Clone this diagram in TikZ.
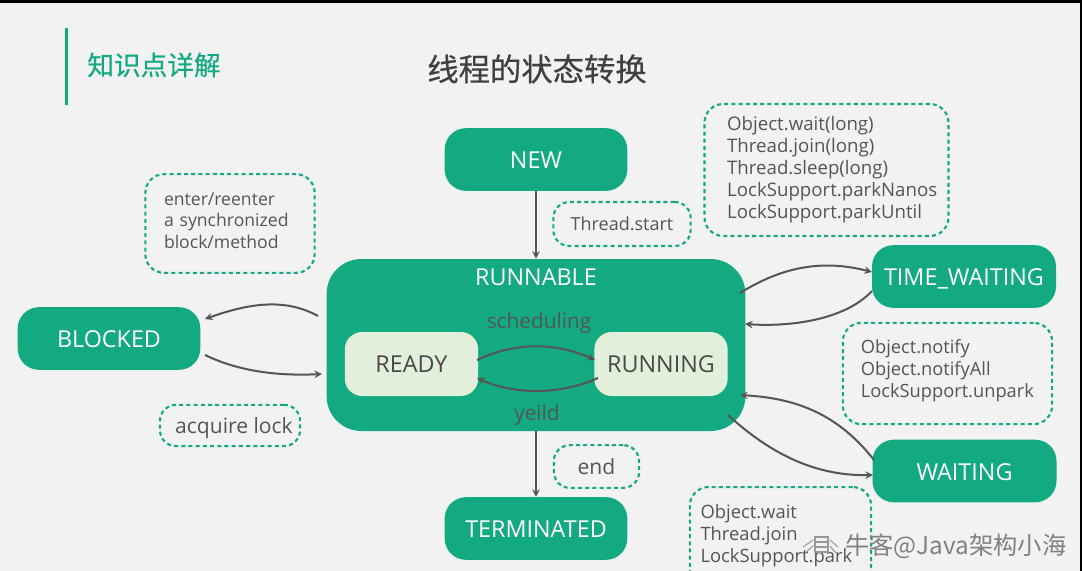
\documentclass[tikz,border=0pt]{standalone}
\usepackage{fontspec}
\usepackage{xcolor}
\usepackage{tikz}
\setmainfont{Open Sans}
\newfontfamily\cjk[AutoFakeBold=0.5]{Noto Sans CJK SC}
\definecolor{vert}{HTML}{13AA82}
\definecolor{pale}{HTML}{E2EFDA}
\definecolor{fond}{HTML}{F2F2F2}
\definecolor{encre}{HTML}{555555}
\newcommand{\basnote}[1]{\rule[-#1pt]{0pt}{#1pt}}
\tikzset{
etat/.style={
 fill=vert,
 rounded corners=16pt,
 text=white,
 text height=14pt,
 text depth=0pt,
 font=\fontsize{17.5}{20}\selectfont,
 minimum width=137pt,
 minimum height=47pt,
 inner sep=0pt
 },
soustat/.style={
 fill=pale,
 rounded corners=13pt,
 text=encre!85!black,
 font=\fontsize{17.5}{20}\selectfont,
 minimum width=100pt,
 minimum height=48pt,
 inner sep=0pt
 },
note/.style={
 draw=vert,
 line width=1.6pt,
 dash pattern=on 3pt off 2.4pt,
 rounded corners=14pt,
 text=encre,
 align=left,
 font=\fontsize{14}{16.5}\selectfont,
 inner sep=0pt
 },
fleche/.style={
 draw=encre,
 line width=1.5pt,
 -stealth
 }
}
\begin{document}
\begin{tikzpicture}[x=0.75pt,y=-0.75pt]
\useasboundingbox (0,0) rectangle (1082,571);
\clip (0,0) rectangle (1082,571);
\fill[fond] (0,0) rectangle (1082,571);
\fill[black] (0,0) rectangle (1082,3);
\fill[black] (1080,0) rectangle (1082,571);
% heading
\fill[vert] (65,28) rectangle (68,105);
\node[text=vert,font=\cjk\bfseries\fontsize{20}{24}\selectfont] (rubrique) at (154,65) {知识点详解};
\node[text=black!75,font=\cjk\bfseries\fontsize{23.5}{28}\selectfont] (titre) at (537,69) {线程的状态转换};
% states
\node[etat] (new) at (536,159.5) {NEW};
\node[etat,rounded corners=26pt,minimum width=314pt,minimum height=129pt] (runnable) at (536,345) {};
\node[text=white,font=\fontsize{17.5}{20}\selectfont] (runnabletxt) at (536,277) {RUNNABLE};
\node[soustat] (ready) at (411.5,364) {READY};
\node[soustat] (running) at (661,364) {RUNNING};
\node[etat] (blocked) at (109,338.5) {BLOCKED};
\node[etat,minimum width=138pt] (timewaiting) at (964,276.5) {TIME\_WAITING};
\node[etat,minimum width=138pt] (waiting) at (964.5,471) {WAITING};
\node[etat] (terminated) at (536,528.5) {TERMINATED};
\node[text=encre,font=\fontsize{15.6}{18}\selectfont] (scheduling) at (539,323) {scheduling};
\node[text=encre,font=\fontsize{15.6}{18}\selectfont] (yeild) at (537,415) {yeild};
% notes
\node[note,minimum width=183pt,minimum height=99pt,text width=149pt] (n1) at (826.5,170) {Object.wait(long)\\Thread.join(long)\\Thread.sleep(long)\\LockSupport.parkNanos\\LockSupport.parkUntil};
\node[note,minimum width=127pt,minimum height=74pt,text width=99pt,font=\fontsize{13.2}{16}\selectfont] (n2) at (230,223.5) {enter/reenter\\a synchronized\\block/method\basnote{4.5}};
\node[note,minimum width=103pt,minimum height=33pt,rounded corners=12pt,align=center,font=\fontsize{13.5}{16}\selectfont] (n3) at (622,224) {Thread.start};
\node[note,minimum width=105pt,minimum height=31pt,rounded corners=12pt,align=center,text height=11.6pt,text depth=0pt,font=\fontsize{15.8}{18}\selectfont] (n4) at (230,425.5) {\hspace*{6pt}acquire lock};
\node[note,minimum width=64pt,minimum height=32pt,rounded corners=12pt,align=center,font=\fontsize{15.8}{18}\selectfont] (n5) at (596.5,466.5) {end};
\node[note,minimum width=157pt,minimum height=76pt,text width=130pt,font=\fontsize{13.7}{16.5}\selectfont] (n6) at (947.5,373.5) {Object.notify\\Object.notifyAll\\LockSupport.unpark\basnote{8}};
\node[note,minimum width=136pt,minimum height=86pt,text width=120pt,anchor=north,font=\fontsize{13.8}{16.5}\selectfont] (n7) at (780.5,486) {Object.wait\\Thread.join\\LockSupport.park\\\mbox{}};
% end points on the box edges
\coordinate (bl1) at (318,316);
\coordinate (bl2) at (205,319);
\coordinate (bl3) at (205,355);
\coordinate (bl4) at (322,374);
\coordinate (sc1) at (477,360);
\coordinate (sc2) at (595,360);
\coordinate (ye1) at (598,378);
\coordinate (ye2) at (477,378);
\coordinate (tw1) at (740,293);
\coordinate (tw2) at (872,272);
\coordinate (tw3) at (872,291);
\coordinate (tw4) at (745,324);
\coordinate (wa1) at (874,460);
\coordinate (wa2) at (740,395);
\coordinate (wa3) at (728,415);
\coordinate (wa4) at (873,475);
% transitions
\draw[fleche] (new) -- (runnable);
\draw[fleche] (runnable) -- (terminated);
\draw[fleche] (bl1) .. controls (285,298) and (250,303) .. (bl2);
\draw[fleche] (bl3) .. controls (240,372) and (280,376) .. (bl4);
\draw[fleche] (sc1) .. controls (515,342) and (555,342) .. (sc2);
\draw[fleche] (ye1) .. controls (560,395) and (515,395) .. (ye2);
\draw[fleche] (tw1) .. controls (785,265) and (825,260) .. (tw2);
\draw[fleche] (tw3) .. controls (845,320) and (790,327) .. (tw4);
\draw[fleche] (wa1) .. controls (835,410) and (790,398) .. (wa2);
\draw[fleche] (wa3) .. controls (775,458) and (820,476) .. (wa4);
% site mark in the corner
\draw[black!40,line width=0.8pt] (815,537) rectangle (828,552) (815,542) -- (828,542) (815,547) -- (828,547);
\draw[black!40,line width=0.8pt] (813,540) -- (803,547) (813,546) -- (805,553) (830,540) -- (838,547) (830,546) -- (836,553);
\node[text=black!50,font=\cjk\fontsize{18.2}{22}\selectfont,anchor=west,inner sep=0pt] (marque) at (845,546) {牛客@Java架构小海};
\end{tikzpicture}
\end{document}
